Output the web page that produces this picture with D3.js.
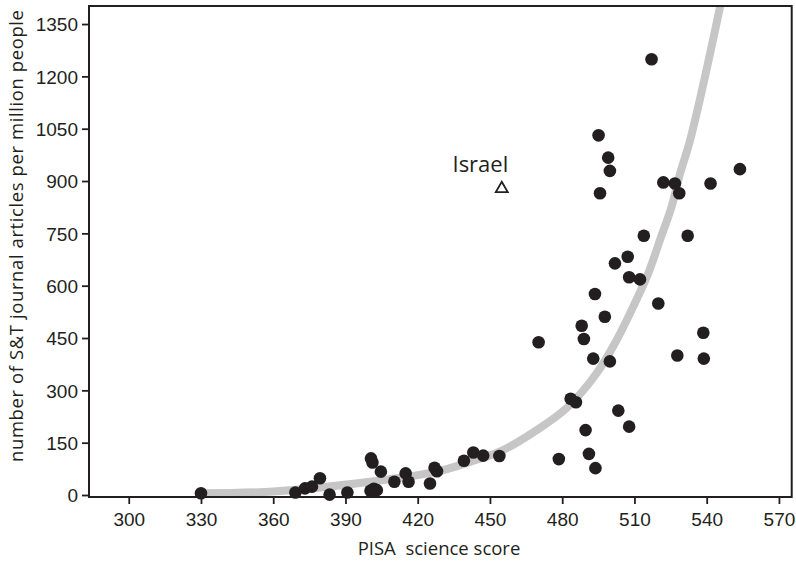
<!DOCTYPE html>
<html>
<head>
<meta charset="utf-8">
<script src="https://cdn.jsdelivr.net/npm/d3@7"></script>
<style>
    html, body { margin: 0; padding: 0; background: #fff; }
    svg { display: block; font-family: "Open Sans", "DejaVu Sans", sans-serif; }
</style>
</head>
<body>
<div id="chart"></div>
<script>
// ─────────────────────────────────────────────
// DATA
// ─────────────────────────────────────────────
const pisaScore = [
    330, 369.2, 373.2, 376.1, 379.4, 383.4, 390.8, 400.6, 401.2, 400.4,
    401.8, 403, 404.7, 410.3, 415, 416.2, 425.1, 427, 428, 439.2,
    443.1, 447.2, 453.9, 470.2, 478.6, 483.5, 485.7, 488.1, 489, 489.7,
    491.1, 492.9, 493.6, 493.8, 495.1, 495.7, 497.7, 499.1, 499.8, 499.8,
    501.9, 503.3, 507.2, 507.8, 507.8, 512.3, 513.9, 517.1, 519.9, 522,
    526.8, 527.8, 528.6, 532.1, 538.6, 538.8, 541.6, 553.8
];
const articles = [
    5, 7, 19, 24, 48, 1, 7, 105, 93, 12,
    18, 14, 67, 38, 62, 38, 33, 78, 68, 98,
    122, 113, 112, 438, 103, 276, 266, 485, 447, 186,
    118, 391, 576, 77, 1031, 865, 511, 967, 929, 383,
    664, 242, 683, 624, 196, 618, 743, 1249, 549, 896,
    893, 400, 865, 743, 465, 391, 893, 934
];

// trend curve, traced along the grey band
const trendX = [330, 360, 400.2, 427.9, 441.7, 455.5, 469.4, 481.8, 494.3,
    502.6, 509.5, 515.7, 520.6, 525.4, 529, 533.1, 545.6, 549];
const trendY = [5, 10, 38, 67, 95, 129, 186, 249, 349,
    444, 540, 635, 731, 826, 923, 1017, 1401, 1520];

// labelled outlier
const israel = { name: "Israel", score: 454.9, value: 881 };

const xTicks = [300, 330, 360, 390, 420, 450, 480, 510, 540, 570];
const yTicks = [0, 150, 300, 450, 600, 750, 900, 1050, 1200, 1350];

const xLabel = "PISA  science score";
const yLabel = "number of S&T journal articles per million people";

// ─────────────────────────────────────────────
// THEME
// ─────────────────────────────────────────────
const C = {
    ink: "#231f20",
    trend: "#c6c6c7",
};

const W = 796, H = 561;
const frame = { left: 89, right: 791.7, top: 6, bottom: 497 };

const x = d3.scaleLinear().domain([283.5, 575.3]).range([frame.left, frame.right]);
const y = d3.scaleLinear().domain([-5.7, 1401.7]).range([frame.bottom, frame.top]);

const svg = d3.select("#chart").append("svg")
    .attr("width", W)
    .attr("height", H);

svg.append("defs").append("clipPath")
    .attr("id", "plot-clip")
    .append("rect")
    .attr("x", frame.left).attr("y", frame.top)
    .attr("width", frame.right - frame.left)
    .attr("height", frame.bottom - frame.top);

// ── Trend band ──────────────────────────────────
const line = d3.line()
    .x(d => x(d[0]))
    .y(d => y(d[1]))
    .curve(d3.curveCatmullRom.alpha(0.5));

svg.append("path")
    .datum(d3.zip(trendX, trendY))
    .attr("clip-path", "url(#plot-clip)")
    .attr("d", line)
    .attr("fill", "none")
    .attr("stroke", C.trend)
    .attr("stroke-width", 8)
    .attr("stroke-linecap", "round");

// ── Points ──────────────────────────────────────
svg.append("g")
    .selectAll("circle")
    .data(d3.zip(pisaScore, articles))
    .join("circle")
    .attr("cx", d => x(d[0]))
    .attr("cy", d => y(d[1]))
    .attr("r", 6.3)
    .attr("fill", C.ink);

// Israel: open triangle + label
const tri = d3.symbol().type(d3.symbolTriangle).size(62);
svg.append("path")
    .attr("d", tri)
    .attr("transform", `translate(${x(israel.score)},${y(israel.value) + 1})`)
    .attr("fill", "#fff")
    .attr("stroke", C.ink)
    .attr("stroke-width", 1.8);

svg.append("text")
    .attr("x", x(israel.score) + 6.5)
    .attr("y", y(israel.value) - 16)
    .attr("text-anchor", "end")
    .attr("font-size", 22)
    .attr("fill", C.ink)
    .text(israel.name);

// ── Axes ────────────────────────────────────────
const xAxis = svg.append("g")
    .attr("transform", `translate(0,${frame.bottom})`)
    .call(d3.axisBottom(x).tickValues(xTicks).tickFormat(d3.format("d"))
        .tickSize(7).tickPadding(9).tickSizeOuter(0));

const yAxis = svg.append("g")
    .attr("transform", `translate(${frame.left},0)`)
    .call(d3.axisLeft(y).tickValues(yTicks).tickFormat(d3.format("d"))
        .tickSize(7).tickPadding(4).tickSizeOuter(0));

[xAxis, yAxis].forEach(g => {
    g.select(".domain").remove();
    g.selectAll(".tick line").attr("stroke", C.ink).attr("stroke-width", 1.8);
    g.selectAll(".tick text")
        .attr("fill", C.ink)
        .attr("font-size", 19)
        .attr("font-family", null);
});
yAxis.selectAll(".tick text").attr("dy", "0.36em");

// frame box
svg.append("rect")
    .attr("x", frame.left).attr("y", frame.top)
    .attr("width", frame.right - frame.left)
    .attr("height", frame.bottom - frame.top)
    .attr("fill", "none")
    .attr("stroke", C.ink)
    .attr("stroke-width", 2);

// ── Axis titles ─────────────────────────────────
svg.append("text")
    .attr("x", (356 + 522) / 2)
    .attr("y", 555)
    .attr("text-anchor", "middle")
    .attr("font-size", 18.5)
    .attr("fill", C.ink)
    .attr("xml:space", "preserve")
    .style("white-space", "pre")
    .text(xLabel);

svg.append("text")
    .attr("transform", "translate(23,236) rotate(-90)")
    .attr("text-anchor", "middle")
    .attr("font-size", 18.5)
    .attr("textLength", 452)
    .attr("lengthAdjust", "spacing")
    .attr("fill", C.ink)
    .text(yLabel);
</script>
</body>
</html>
